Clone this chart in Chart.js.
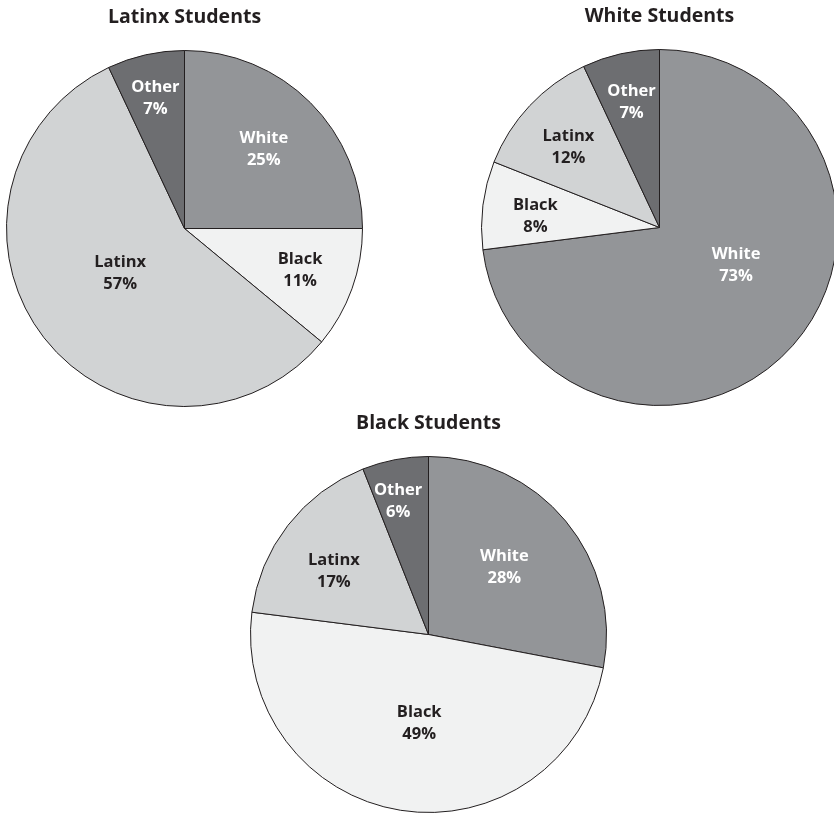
<!DOCTYPE html>
<html>
<head>
<meta charset="utf-8">
<script src="https://cdn.jsdelivr.net/npm/chart.js@4.4.1/dist/chart.umd.min.js"></script>
<style>
  html, body { margin: 0; padding: 0; background: #fff; overflow: hidden; }
  body { width: 834px; height: 814px; position: relative; }
  .pie { position: absolute; width: 357px; height: 407px; }
</style>
</head>
<body>
<div class="pie" style="left:6px;top:0px"><canvas id="latinx"></canvas></div>
<div class="pie" style="left:481px;top:-1px"><canvas id="white"></canvas></div>
<div class="pie" style="left:250px;top:406px"><canvas id="black"></canvas></div>
<script>
  // slice order is the same in every pie, clockwise from 12 o'clock
  const categories = ['White', 'Black', 'Latinx', 'Other'];
  const latinxStudents = [25, 11, 57, 7];
  const whiteStudents = [73, 8, 12, 7];
  const blackStudents = [28, 49, 17, 6];

  const sliceColors = ['#939598', '#f1f2f2', '#d1d3d4', '#6d6e71'];
  const labelColors = ['#ffffff', '#231f20', '#231f20', '#ffffff'];

  // how far out each label sits (share of radius) and a small turn in degrees
  const latinxLabelPos = { r: [0.63, 0.69, 0.44, 0.75], turn: [0, 0, 3, 0] };
  const whiteLabelPos = { r: [0.48, 0.70, 0.68, 0.72], turn: [-15, -2, -2, 0] };
  const blackLabelPos = { r: [0.57, 0.50, 0.64, 0.77], turn: [-2, -3, -4, -2] };

  const fontFamily = '"Open Sans", "DejaVu Sans", sans-serif';

  // draws "Name / NN%" inside each slice
  const sliceLabels = {
    id: 'sliceLabels',
    afterDatasetsDraw(chart, args, opts) {
      const ctx = chart.ctx;
      const meta = chart.getDatasetMeta(0);
      const values = chart.data.datasets[0].data;
      ctx.save();
      ctx.font = 'bold 16.5px ' + fontFamily;
      ctx.textAlign = 'center';
      ctx.textBaseline = 'middle';
      meta.data.forEach((arc, i) => {
        const p = arc.getProps(['x', 'y', 'startAngle', 'endAngle', 'outerRadius'], true);
        const mid = (p.startAngle + p.endAngle) / 2 + opts.turn[i] * Math.PI / 180;
        const rr = p.outerRadius * opts.r[i];
        const cx = p.x + Math.cos(mid) * rr;
        const cy = p.y + Math.sin(mid) * rr;
        ctx.fillStyle = labelColors[i];
        ctx.fillText(chart.data.labels[i], cx, cy - 11);
        ctx.fillText(values[i] + '%', cx, cy + 11);
      });
      ctx.restore();
    }
  };

  function drawPie(id, title, values, labelPos) {
    new Chart(document.getElementById(id), {
      type: 'pie',
      data: {
        labels: categories,
        datasets: [{
          data: values,
          backgroundColor: sliceColors,
          borderColor: '#231f20',
          borderWidth: 1
        }]
      },
      options: {
        responsive: true,
        maintainAspectRatio: false,
        animation: false,
        layout: { padding: 0 },
        plugins: {
          legend: { display: false },
          tooltip: { enabled: false },
          title: {
            display: true,
            text: title,
            color: '#231f20',
            font: { family: fontFamily, size: 19.5, weight: 'bold', lineHeight: 1.2 },
            padding: { top: 6, bottom: 20.6 }
          },
          sliceLabels: labelPos
        }
      },
      plugins: [sliceLabels]
    });
  }

  drawPie('latinx', 'Latinx Students', latinxStudents, latinxLabelPos);
  drawPie('white', 'White Students', whiteStudents, whiteLabelPos);
  drawPie('black', 'Black Students', blackStudents, blackLabelPos);
</script>
</body>
</html>
